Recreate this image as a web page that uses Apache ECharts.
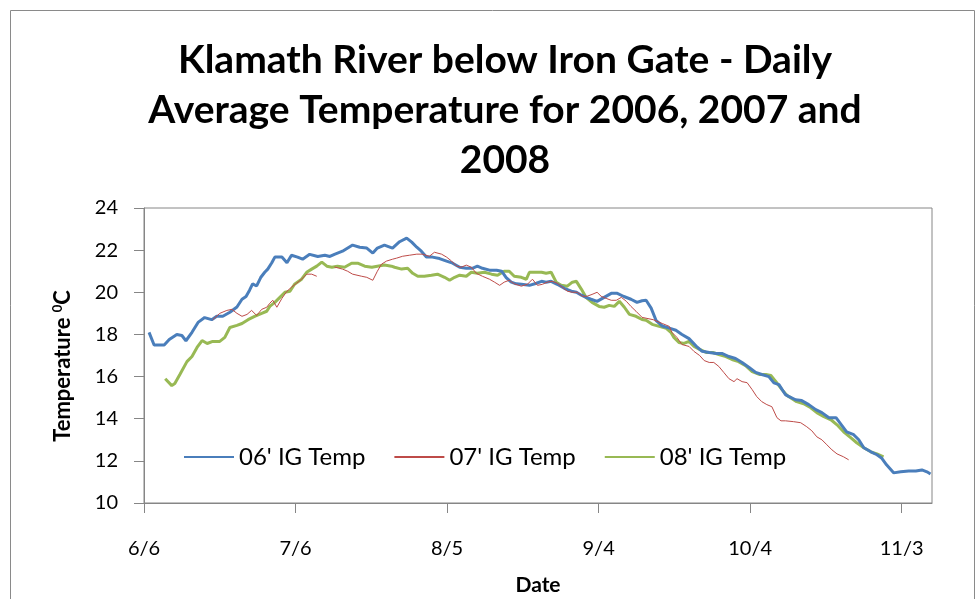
<!DOCTYPE html>
<html>
<head>
<meta charset="utf-8">
<script src="https://cdn.jsdelivr.net/npm/echarts@6/dist/echarts.min.js"></script>
<style>
html,body{margin:0;padding:0;background:#fff;}
#c{width:979px;height:599px;}
</style>
</head>
<body>
<div id="c"></div>
<script>
// x = days after 6/6
var tickDays = [0, 30, 60, 90, 120, 150];
var tickLabels = ["6/6", "7/6", "8/5", "9/4", "10/4", "11/3"];

var days06 = [1,2,4,5,6.5,7.5,8.3,9.5,10.7,12,13.4,14.4,15.6,17,18.4,19.4,20.2,20.9,21.5,22.3,23.1,23.9,24.5,25.3,25.9,27.3,28.3,29.2,30.4,31.4,32.8,34.4,35.8,36.8,37.7,39.3,41.3,42.7,44.1,45.3,46.2,47.6,49.2,50.6,52,53,54,54.9,55.9,57.1,58.5,59.9,61.1,62.5,63.8,65,66,67,68.4,69.8,70.8,71.7,72.7,73.7,74.7,76.3,77.7,78.7,79.6,80.6,81.8,83.2,84.6,85.6,86.6,87.5,88.5,89.7,91.1,92.5,93.7,95,96.4,97.6,98.6,99.4,100.4,101.4,102.6,104,105.3,106.5,107.9,109.3,110.5,111.9,113.3,114.4,115.8,117.1,118.4,119.8,121.1,122.3,123.7,124.7,125.7,127,127.7,129,130.2,131.6,133,134.2,135.6,137,138.1,139.1,140.5,141.5,142.5,143.9,145.1,146,147,148.4,149.8,151.4,152.8,154,155,155.7];
var temp06 = [18.1,17.5,17.5,17.76,18.0,17.95,17.7,18.1,18.57,18.8,18.7,18.86,18.86,19.05,19.3,19.67,19.8,20.1,20.4,20.3,20.7,20.95,21.1,21.4,21.67,21.67,21.4,21.76,21.67,21.57,21.8,21.7,21.76,21.7,21.8,21.95,22.24,22.14,22.1,21.86,22.1,22.24,22.1,22.4,22.57,22.38,22.14,21.95,21.67,21.67,21.6,21.48,21.38,21.19,21.14,21.14,21.24,21.14,21.05,21.05,21.0,20.7,20.48,20.4,20.38,20.33,20.43,20.52,20.48,20.52,20.38,20.19,20.05,20.0,19.86,19.76,19.67,19.57,19.76,19.95,19.95,19.8,19.67,19.52,19.6,19.62,19.25,18.65,18.4,18.3,18.2,18.0,17.8,17.45,17.2,17.14,17.1,17.1,16.95,16.86,16.67,16.43,16.2,16.1,16.0,15.7,15.62,15.14,15.05,14.9,14.86,14.67,14.43,14.29,14.05,14.05,13.7,13.38,13.24,13.0,12.62,12.43,12.29,12.14,11.81,11.43,11.48,11.52,11.52,11.57,11.48,11.38];

var days07 = [13.6,15,16.4,17.4,18.4,19.4,20.4,21.3,22.3,23.3,24.3,24.9,25.5,26.3,27.3,28.3,29.2,30.2,31.2,32.2,33.2,34.2,36,37.7,39.3,40.3,41.3,43.1,44.1,45.3,46.2,47,48,49.2,50,51.2,52.6,54,55.1,56.5,57.5,58.9,59.9,60.9,61.9,62.8,63.8,64.8,65.8,67,68.4,69.4,70.4,71.3,72.3,73.3,74.7,75.9,76.9,77.9,78.9,79.8,80.8,81.8,82.8,83.8,84.8,85.8,86.8,87.7,88.7,89.7,90.5,91.5,92.5,93.5,94.5,95.5,96.4,97.4,98.6,100.8,102.6,104,104.5,105.5,106.5,107.9,108.9,110,110.9,111.9,112.8,113.8,114.8,115.8,116.8,117.4,118.4,119.4,120.4,121.3,122.3,123.3,124.3,125.3,126.1,127,128.6,130,131.2,132.2,133.2,134.2,135.2,136.2,137.2,138.5,139.5];
var temp07 = [18.7,19.0,19.14,19.19,19.0,18.86,18.95,19.14,18.9,19.19,19.29,19.48,19.62,19.29,19.71,20.05,20.24,20.43,20.62,20.86,20.86,20.76,null,21.2,21.1,21.0,20.86,20.76,20.71,20.57,21.0,21.33,21.48,21.57,21.62,21.71,21.76,21.81,21.81,21.71,21.9,21.81,21.67,21.48,21.24,21.19,21.29,21.19,20.9,20.76,20.62,20.48,20.33,20.48,20.57,20.4,20.29,20.38,20.62,20.33,20.38,20.48,20.52,20.43,20.24,20.05,20.0,20.0,19.81,19.81,19.9,20.0,19.81,19.71,19.62,19.62,19.76,19.57,19.33,19.1,18.81,18.7,18.52,18.38,18.1,17.86,17.52,17.43,17.19,17.0,16.76,16.67,16.67,16.48,16.19,15.9,15.76,15.9,15.76,15.71,15.38,15.05,14.81,14.67,14.57,14.05,13.9,13.9,13.86,13.81,13.62,13.43,13.14,13.0,12.76,12.52,12.33,12.19,12.05];

var days08 = [4.2,5.5,6.1,7.1,8.5,9.5,10.5,11.5,12.5,13.6,15,16,17,18.4,19.4,20.6,21.9,23.3,24.3,24.9,25.9,26.9,27.9,28.9,29.8,31.2,32.2,33.2,34.2,35.2,36.2,37.2,38.3,39.7,41.1,42.3,43.7,45.1,46.2,47.6,49,49.6,51,52.2,53.2,54.2,55.5,56.9,58.1,59.5,60.5,61.5,62.5,63.8,64.8,66,67.4,68.8,70,71.3,72.3,73.3,74.7,75.7,76.3,77.3,78.7,79.6,80.6,81.6,82.6,83.8,84.8,85.6,86.6,87.5,88.7,90.1,91.1,92.1,93.1,94.1,95.1,96.1,97.4,98.6,99.4,100.6,102,103.4,104.3,104.9,105.9,106.9,107.9,108.9,110,111.4,112.6,113.8,115.2,116.4,117.7,119.1,120.4,121.8,123.1,124.1,125.1,126.3,127.3,128,129.2,130.6,132,133.2,134.6,136,137.2,138.5,139.9,141.1,142.5,143.9,145.1,146.4];
var temp08 = [15.9,15.57,15.67,16.1,16.71,16.95,17.38,17.71,17.57,17.67,17.67,17.86,18.33,18.43,18.52,18.7,18.86,19.0,19.1,19.33,19.52,19.76,20.0,20.05,20.38,20.62,20.95,21.1,21.24,21.43,21.24,21.19,21.24,21.19,21.38,21.38,21.24,21.19,21.24,21.29,21.24,21.19,21.1,21.14,20.9,20.76,20.76,20.81,20.86,20.71,20.57,20.71,20.81,20.76,20.95,20.9,20.95,20.86,20.81,21.0,21.0,20.76,20.71,20.62,20.95,20.95,20.95,20.9,20.95,20.48,20.33,20.29,20.48,20.52,20.14,19.76,19.52,19.33,19.29,19.38,19.33,19.57,19.29,18.95,18.86,18.71,18.67,18.48,18.38,18.29,18.1,17.86,17.62,17.57,17.67,17.43,17.29,17.14,17.14,17.05,16.95,16.81,16.71,16.52,16.24,16.1,16.1,16.05,15.76,15.38,15.1,15.0,14.81,14.71,14.52,14.29,14.1,13.95,13.71,13.38,13.1,12.86,12.62,12.43,12.33,12.19];

function pairs(d, t){
  return d.map(function(x, i){ return [x, t[i] == null ? '-' : t[i]]; });
}

var FONT = "Lato";
var ch = echarts.init(document.getElementById("c"), null, {renderer:"canvas"});
ch.setOption({
  animation:false,
  backgroundColor:"#fff",
  title:{
    text:"Klamath River below Iron Gate - Daily\nAverage Temperature for 2006, 2007 and\n2008",
    left:500, top:30, textAlign:"center",
    textStyle:{fontFamily:FONT, fontSize:39, fontWeight:"bold", color:"#000", lineHeight:50}
  },
  graphic:[
    {type:"rect", shape:{x:10.5, y:10.5, width:964, height:600},
      style:{fill:"none", stroke:"#8a8a8a", lineWidth:1}, silent:true},
    {type:"text", x:63, y:366, rotation:Math.PI/2, silent:true,
      style:{text:"{a|Temperature }{s|0}{a|C}", align:"center", verticalAlign:"middle",
        rich:{
          a:{fontFamily:FONT, fontSize:22, fontWeight:"bold", fill:"#000"},
          s:{fontFamily:FONT, fontSize:13, fontWeight:"bold", fill:"#000", padding:[0,0,10,0]}
        }}}
  ],
  legend:{
    left:178, top:440, itemWidth:50, itemHeight:14, itemGap:28,
    itemStyle:{opacity:0},
    textStyle:{fontFamily:FONT, fontSize:24, color:"#000"},
    data:["06' IG Temp","07' IG Temp","08' IG Temp"]
  },
  grid:{left:144, right:47, top:208, bottom:96, show:true, borderColor:"#868686", borderWidth:1},
  xAxis:{
    type:"value", min:0, max:156,
    name:"Date", nameLocation:"middle", nameGap:72,
    nameTextStyle:{fontFamily:FONT, fontSize:21, fontWeight:"bold", color:"#000"},
    axisLine:{lineStyle:{color:"#868686"}},
    axisTick:{show:true, length:10, customValues:tickDays, lineStyle:{color:"#868686"}},
    axisLabel:{customValues:tickDays, margin:36, fontFamily:FONT, fontSize:20, color:"#000",
      formatter:function(v){ var i = tickDays.indexOf(v); return i < 0 ? "" : tickLabels[i]; }},
    splitLine:{show:false}
  },
  yAxis:{
    type:"value", min:10, max:24, interval:2,
    axisLine:{show:true, lineStyle:{color:"#868686"}},
    axisTick:{show:true, length:10, lineStyle:{color:"#868686"}},
    axisLabel:{margin:26, fontFamily:FONT, fontSize:20, color:"#000"},
    splitLine:{show:false}
  },
  series:[
    {name:"06' IG Temp", type:"line", symbol:"none", data:pairs(days06, temp06),
      lineStyle:{color:"#4a7ebb", width:3}, itemStyle:{color:"#4a7ebb"}, z:3},
    {name:"07' IG Temp", type:"line", symbol:"none", data:pairs(days07, temp07),
      lineStyle:{color:"#be4b48", width:1}, itemStyle:{color:"#be4b48"}, z:4},
    {name:"08' IG Temp", type:"line", symbol:"none", data:pairs(days08, temp08),
      lineStyle:{color:"#98b954", width:3}, itemStyle:{color:"#98b954"}, z:2}
  ]
});
</script>
</body>
</html>
